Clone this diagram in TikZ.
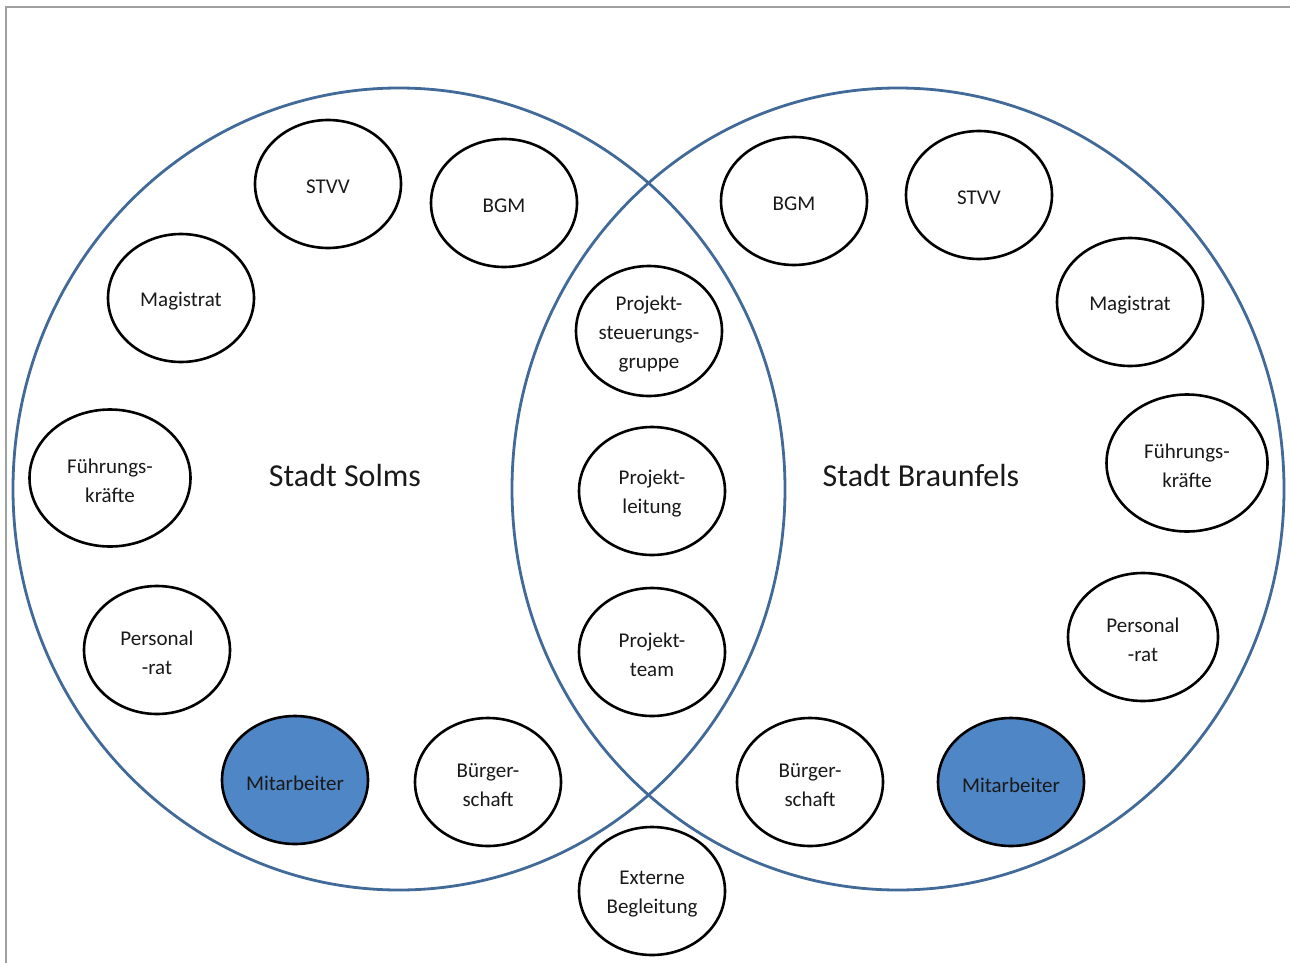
\documentclass[tikz,border=0pt]{standalone}
\usepackage{fontspec}
\setmainfont{Carlito}
\usetikzlibrary{shapes.geometric}
\definecolor{ringblue}{RGB}{65,106,152}
\definecolor{fillblue}{RGB}{79,134,198}
\definecolor{framegray}{RGB}{160,160,160}
\begin{document}
\begin{tikzpicture}[x=1pt,y=-1pt,
  ell/.style={draw=black, line width=2.6pt, ellipse, inner sep=0pt,
    minimum width=146pt, minimum height=128pt},
  big/.style={ell, minimum width=161pt, minimum height=137pt},
  hl/.style={fill=fillblue},
  lbl/.style={align=center, font=\fontsize{21}{29}\selectfont, text=black!90, yshift=-3pt},
  city/.style={font=\fontsize{32}{38}\selectfont, text=black!90}]
\useasboundingbox (0,0) rectangle (1290,963);
% frame
\draw[framegray, line width=2.8pt] (6,963) -- (6,7) -- (1290,7);
% big rings
\draw[ringblue, line width=2.8pt] (399,489) ellipse [x radius=386pt, y radius=401pt];
\draw[ringblue, line width=2.8pt] (898,489) ellipse [x radius=386pt, y radius=401pt];
\node[city] (solms) at (345,476) {Stadt Solms};
\node[city] (braunfels) at (921,476) {Stadt Braunfels};
% left
\node[ell, label={[lbl]center:STVV}] (lstvv) at (328,184) {};
\node[ell, label={[lbl]center:BGM}] (lbgm) at (504,203) {};
\node[ell, label={[lbl]center:Magistrat}] (lmag) at (181,298) {};
\node[big, label={[lbl]center:Führungs-\\kräfte}] (lfk) at (110,478) {};
\node[ell, label={[lbl]center:Personal\\-rat}] (lpr) at (157,650) {};
\node[ell, hl, label={[lbl]center:Mitarbeiter}] (lma) at (295,780) {};
\node[ell, label={[lbl]center:Bürger-\\schaft}] (lbs) at (488,782) {};
% middle
\node[ell, minimum height=130pt, label={[lbl]center:Projekt-\\steuerungs-\\gruppe}] (psg) at (649,331) {};
\node[ell, label={[lbl]center:Projekt-\\leitung}] (pl) at (652,491) {};
\node[ell, label={[lbl]center:Projekt-\\team}] (pt) at (652,652) {};
\node[ell, label={[lbl]center:Externe\\Begleitung}] (ext) at (652,891) {};
% right
\node[ell, label={[lbl]center:BGM}] (rbgm) at (794,201) {};
\node[ell, label={[lbl]center:STVV}] (rstvv) at (979,195) {};
\node[ell, label={[lbl]center:Magistrat}] (rmag) at (1130,302) {};
\node[big, label={[lbl]center:Führungs-\\kräfte}] (rfk) at (1187,463) {};
\node[ell, minimum width=150pt, label={[lbl]center:Personal\\-rat}] (rpr) at (1143,637) {};
\node[ell, hl, label={[lbl]center:Mitarbeiter}] (rma) at (1011,782) {};
\node[ell, label={[lbl]center:Bürger-\\schaft}] (rbs) at (810,782) {};
\end{tikzpicture}
\end{document}
